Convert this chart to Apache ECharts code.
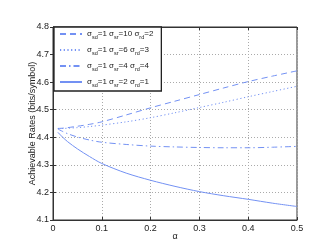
<!DOCTYPE html>
<html><head><meta charset="utf-8">
<script src="https://cdn.jsdelivr.net/npm/echarts@6/dist/echarts.min.js"></script>
<style>html,body{margin:0;padding:0;background:#fff}#c{width:332px;height:248px}</style>
</head><body><div id="c"></div>
<script>
const alpha = [0.01,0.02,0.03,0.05,0.075,0.1,0.15,0.2,0.25,0.3,0.35,0.4,0.45,0.5];
const sr10 = [4.432,4.433,4.435,4.440,4.447,4.456,4.481,4.507,4.531,4.555,4.579,4.602,4.622,4.641];
const sr6  = [4.432,4.432,4.433,4.435,4.439,4.444,4.456,4.471,4.489,4.508,4.527,4.547,4.566,4.585];
const sr4  = [4.430,4.421,4.413,4.401,4.390,4.382,4.374,4.368,4.365,4.363,4.362,4.362,4.364,4.367];
const sr2  = [4.418,4.400,4.384,4.358,4.330,4.305,4.270,4.244,4.222,4.203,4.188,4.175,4.161,4.149];
const names = ['σsd=1 σsr=10 σrd=2','σsd=1 σsr=6 σrd=3','σsd=1 σsr=4 σrd=4','σsd=1 σsr=2 σrd=1'];
const labels = [
  '{a|σ}{s|sd}{a|=1 σ}{s|sr}{a|=10 σ}{s|rd}{a|=2}',
  '{a|σ}{s|sd}{a|=1 σ}{s|sr}{a|=6 σ}{s|rd}{a|=3}',
  '{a|σ}{s|sd}{a|=1 σ}{s|sr}{a|=4 σ}{s|rd}{a|=4}',
  '{a|σ}{s|sd}{a|=1 σ}{s|sr}{a|=2 σ}{s|rd}{a|=1}'
];
const xTicks = [0,0.1,0.2,0.3,0.4,0.5];
const yTicks = [4.1,4.2,4.3,4.4,4.5,4.6,4.7,4.8];

const col = '#7391f3';
const font = 'Liberation Sans, Arial, sans-serif';
function mk(name, data, type) {
  const ls = {color: col, width: 1};
  if (type === 'dashed') { ls.type = [6,4]; }
  if (type === 'dotted') { ls.type = [1.2,2.5]; }
  if (type === 'dashdot') { ls.type = [6,3,1.5,3]; }
  return {name, type:'line', data: alpha.map((a,i)=>[a,data[i]]), showSymbol:false, symbol:'none',
    lineStyle: ls, itemStyle:{color:col}, smooth:0.3, animation:false};
}
const chart = echarts.init(document.getElementById('c'));
const axisCommon = {
  axisLine:{show:true, lineStyle:{color:'#333', width:1}},
  axisTick:{show:true, inside:true, length:3, lineStyle:{color:'#333'}},
};
chart.setOption({
  animation:false,
  grid:{left:53, right:35, top:27, bottom:28, show:true, borderColor:'#333', borderWidth:1},
  legend:{
    left:54, top:27, orient:'vertical', itemWidth:22, itemHeight:9, itemGap:6,
    backgroundColor:'#fff', borderColor:'#222', borderWidth:1.3, padding:[3,8,3,5],
    borderRadius:0,
    itemStyle:{opacity:0},
    data: names,
    formatter: function(n){ return labels[names.indexOf(n)]; },
    textStyle:{ fontFamily:font, fontSize:8, color:'#222',
      rich:{ a:{fontSize:8, fontFamily:font, color:'#222'}, s:{fontSize:5.5, fontFamily:font, color:'#222', padding:[6,0,0,0]} } }
  },
  xAxis:[{type:'value', min:0, max:0.5, interval:0.1, position:'bottom',
    name:'α', nameLocation:'middle', nameGap:12, nameMoveOverlap:false, nameTextStyle:{fontFamily:font, fontSize:9, color:'#222'},
    ...axisCommon,
    axisLabel:{fontFamily:font, fontSize:9, color:'#222', margin:4, formatter:v=>xTicks.includes(+v.toFixed(1))?String(+v.toFixed(1)):''},
    splitLine:{show:true, lineStyle:{color:'#aaa', type:[1,2], width:1}}},
    {type:'value', min:0, max:0.5, interval:0.1, position:'top', ...axisCommon, axisLabel:{show:false}, splitLine:{show:false}}],
  yAxis:[{type:'value', min:4.1, max:4.8, interval:0.1, position:'left',
    name:'Achievable Rates (bits/symbol)', nameLocation:'middle', nameGap:16, nameMoveOverlap:false,
    nameTextStyle:{fontFamily:font, fontSize:9, color:'#222'},
    ...axisCommon,
    axisLabel:{fontFamily:font, fontSize:9, color:'#222', margin:4, formatter:v=>(+v).toFixed(1)},
    splitLine:{show:true, lineStyle:{color:'#aaa', type:[1,2], width:1}}},
    {type:'value', min:4.1, max:4.8, interval:0.1, position:'right', ...axisCommon, axisLabel:{show:false}, splitLine:{show:false}}],
  series:[mk(names[0],sr10,'dashed'), mk(names[1],sr6,'dotted'), mk(names[2],sr4,'dashdot'), mk(names[3],sr2,'solid')]
});
</script></body></html>
